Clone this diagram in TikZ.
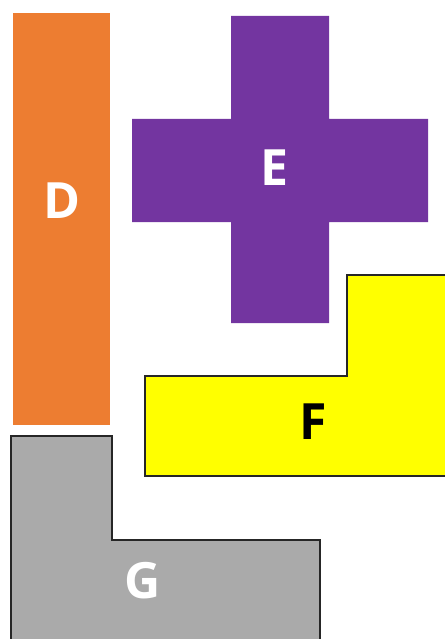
\documentclass[tikz,border=0pt]{standalone}
\usepackage{fontspec}
\setmainfont{Open Sans}
\usepackage{tikz}
\definecolor{pieceD}{HTML}{ED7D31}
\definecolor{pieceE}{HTML}{7335A0}
\definecolor{pieceF}{HTML}{FFFF00}
\definecolor{pieceG}{HTML}{AAAAAA}

\begin{document}
\begin{tikzpicture}[
    x=1pt, y=-1pt,
    piece/.style={line join=miter},
    edged/.style={draw=black!85, line width=1.3pt},
    lbl/.style={font=\fontsize{50}{50}\selectfont\bfseries, inner sep=0pt},
  ]
    \useasboundingbox (0,0) rectangle (444,639);

    % pieces
    \fill[piece, pieceD] (13,13) rectangle (110,425);
    \fill[piece, pieceE] (231,16) -- (329,16) -- (329,119) -- (428,119) -- (428,222)
        -- (329,222) -- (329,323) -- (231,323) -- (231,222) -- (132,222)
        -- (132,119) -- (231,119) -- cycle;
    \filldraw[piece, edged, fill=pieceF] (145,376) -- (347,376) -- (347,275) -- (446,275)
        -- (446,476) -- (145,476) -- cycle;
    \filldraw[piece, edged, fill=pieceG] (11,436) -- (112,436) -- (112,540) -- (320,540)
        -- (320,642) -- (11,642) -- cycle;

    % letters
    \node[lbl, white] (d) at (62,201) {D};
    \node[lbl, white] (e) at (274,168) {E};
    \node[lbl, black] (f) at (313,422) {F};
    \node[lbl, white] (g) at (143,581) {G};
  \end{tikzpicture}
\end{document}
